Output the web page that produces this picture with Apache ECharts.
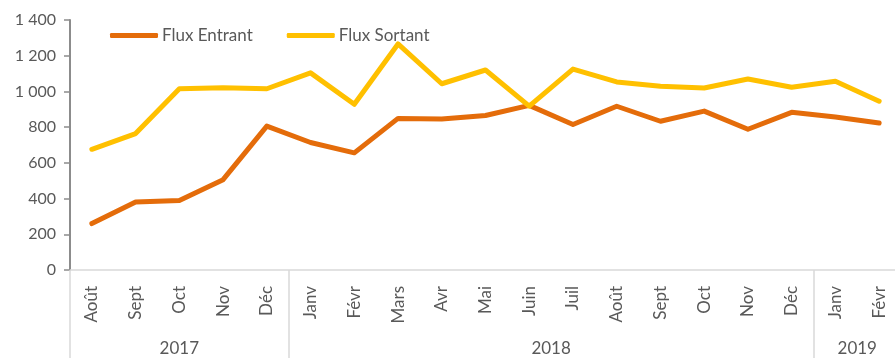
<!DOCTYPE html>
<html>
<head>
<meta charset="utf-8">
<script src="https://cdn.jsdelivr.net/npm/echarts@6/dist/echarts.min.js"></script>
<style>
  html, body { margin: 0; padding: 0; background: #ffffff; }
  #chart { width: 895px; height: 358px; }
</style>
</head>
<body>
<div id="chart"></div>
<script>
// Monthly categories, Aug 2017 – Feb 2019
const months = ['Août', 'Sept', 'Oct', 'Nov', 'Déc',
  'Janv', 'Févr', 'Mars', 'Avr', 'Mai', 'Juin', 'Juil', 'Août', 'Sept', 'Oct', 'Nov', 'Déc',
  'Janv', 'Févr'];

// Year groups: label and number of months in each
const years = ['2017', '2018', '2019'];
const yearSpans = [5, 12, 2];

const fluxEntrant = [260, 381, 389, 506, 806, 714, 656, 849, 846, 865, 922, 815,
  917, 833, 890, 788, 883, 857, 823];
const fluxSortant = [676, 764, 1015, 1021, 1015, 1104, 928, 1266, 1043, 1120, 918, 1125,
  1053, 1029, 1019, 1070, 1023, 1057, 945];

const yTicks = { min: 0, max: 1400, step: 200 };

// Group boundaries and centres along the month axis
const bounds = [0];
yearSpans.forEach(function (n) { bounds.push(bounds[bounds.length - 1] + n); });
const centres = years.map(function (_, i) { return (bounds[i] + bounds[i + 1]) / 2; });

const FONT = 'Lato, "Open Sans", sans-serif';
const TEXT = '#595959';

function fmtThousands(v) {
  return String(v).replace(/\B(?=(\d{3})+(?!\d))/g, ' ');
}

const chart = echarts.init(document.getElementById('chart'), null, { renderer: 'canvas' });

chart.setOption({
  animation: false,
  backgroundColor: '#ffffff',
  textStyle: { fontFamily: FONT },
  grid: { left: 70, top: 20, bottom: 88, width: 831, containLabel: false, outerBoundsMode: 'none' },
  legend: {
    left: 105,
    top: 22,
    itemWidth: 48,
    itemHeight: 5,
    itemGap: 34,
    icon: 'roundRect',
    textStyle: { fontFamily: FONT, fontSize: 17, color: TEXT, padding: [0, 0, 0, -1] },
    data: ['Flux Entrant', 'Flux Sortant']
  },
  xAxis: [
    {
      type: 'category',
      data: months,
      boundaryGap: true,
      axisLine: { show: true, lineStyle: { color: '#d9d9d9', width: 1.5 } },
      axisTick: { show: false },
      axisLabel: {
        rotate: 90,
        interval: 0,
        margin: 16,
        fontFamily: FONT,
        fontSize: 17,
        color: TEXT
      },
      splitLine: { show: false }
    },
    {
      // Year grouping row beneath the month labels
      type: 'value',
      position: 'bottom',
      min: 0,
      max: bounds[bounds.length - 1],
      axisLine: { show: false },
      axisTick: {
        show: true,
        length: 88,
        customValues: bounds,
        lineStyle: { color: '#d9d9d9', width: 1.5 }
      },
      axisLabel: {
        show: true,
        customValues: centres,
        margin: 70,
        fontFamily: FONT,
        fontSize: 17,
        color: TEXT,
        formatter: function (v) {
          const i = centres.indexOf(v);
          return i >= 0 ? years[i] : '';
        }
      },
      splitLine: { show: false }
    }
  ],
  yAxis: {
    type: 'value',
    min: yTicks.min,
    max: yTicks.max,
    interval: yTicks.step,
    axisLine: { show: true, lineStyle: { color: '#8c8c8c', width: 2 } },
    axisTick: { show: true, length: 6, lineStyle: { color: '#8c8c8c', width: 1.5 } },
    axisLabel: {
      margin: 14,
      fontFamily: FONT,
      fontSize: 16,
      color: TEXT,
      formatter: fmtThousands
    },
    splitLine: { show: false }
  },
  series: [
    {
      name: 'Flux Entrant',
      type: 'line',
      data: fluxEntrant,
      symbol: 'none',
      color: '#E46C0A',
      lineStyle: { width: 5, color: '#E46C0A', cap: 'round', join: 'round' }
    },
    {
      name: 'Flux Sortant',
      type: 'line',
      data: fluxSortant,
      symbol: 'none',
      color: '#FFC000',
      lineStyle: { width: 5, color: '#FFC000', cap: 'round', join: 'round' }
    }
  ]
});
</script>
</body>
</html>
